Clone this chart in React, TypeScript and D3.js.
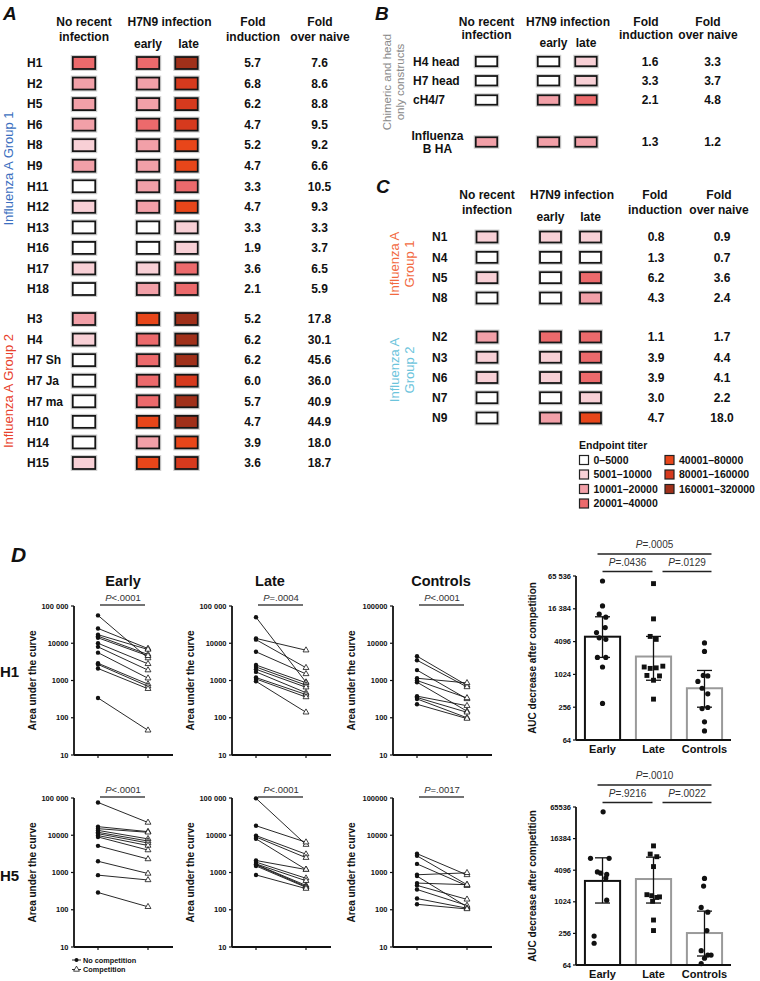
import React from 'react';
import * as d3 from 'd3';

const FONT = "'Liberation Sans', Arial, Helvetica, sans-serif";

// ---------- Titer legend ----------
const TITER_COLORS = ['#ffffff', '#f8d0d6', '#f2a0a8', '#ec6a6c', '#e8461a', '#d63a1e', '#a0301a'];
const TITER_LABELS = ['0–5000', '5001–10000', '10001–20000', '20001–40000', '40001–80000', '80001–160000', '160001–320000'];

// ---------- Panel A ----------
const A1_LABELS = ['H1', 'H2', 'H5', 'H6', 'H8', 'H9', 'H11', 'H12', 'H13', 'H16', 'H17', 'H18'];
const A1_NONE = [3, 2, 2, 2, 1, 2, 0, 1, 0, 0, 1, 0];
const A1_EARLY = [3, 2, 2, 3, 2, 2, 2, 2, 0, 0, 1, 2];
const A1_LATE = [6, 5, 5, 5, 4, 4, 3, 4, 1, 1, 3, 3];
const A1_FI = ['5.7', '6.8', '6.2', '4.7', '5.2', '4.7', '3.3', '4.7', '3.3', '1.9', '3.6', '2.1'];
const A1_FN = ['7.6', '8.6', '8.8', '9.5', '9.2', '6.6', '10.5', '9.3', '3.3', '3.7', '6.5', '5.9'];

const A2_LABELS = ['H3', 'H4', 'H7 Sh', 'H7 Ja', 'H7 ma', 'H10', 'H14', 'H15'];
const A2_NONE = [2, 1, 0, 0, 0, 0, 0, 1];
const A2_EARLY = [4, 3, 3, 3, 3, 4, 2, 4];
const A2_LATE = [6, 6, 6, 5, 6, 6, 4, 5];
const A2_FI = ['5.2', '6.2', '6.2', '6.0', '5.7', '4.7', '3.9', '3.6'];
const A2_FN = ['17.8', '30.1', '45.6', '36.0', '40.9', '44.9', '18.0', '18.7'];

// ---------- Panel B ----------
const B1_LABELS = ['H4 head', 'H7 head', 'cH4/7'];
const B1_NONE = [0, 0, 0];
const B1_EARLY = [0, 0, 2];
const B1_LATE = [1, 1, 3];
const B1_FI = ['1.6', '3.3', '2.1'];
const B1_FN = ['3.3', '3.7', '4.8'];
const B2_LABELS = ['Influenza\nB HA'];
const B2_NONE = [2];
const B2_EARLY = [2];
const B2_LATE = [2];
const B2_FI = ['1.3'];
const B2_FN = ['1.2'];

// ---------- Panel C ----------
const C1_LABELS = ['N1', 'N4', 'N5', 'N8'];
const C1_NONE = [1, 0, 1, 0];
const C1_EARLY = [1, 0, 0, 0];
const C1_LATE = [1, 0, 3, 2];
const C1_FI = ['0.8', '1.3', '6.2', '4.3'];
const C1_FN = ['0.9', '0.7', '3.6', '2.4'];
const C2_LABELS = ['N2', 'N3', 'N6', 'N7', 'N9'];
const C2_NONE = [2, 1, 1, 0, 0];
const C2_EARLY = [3, 1, 1, 0, 2];
const C2_LATE = [3, 3, 3, 1, 4];
const C2_FI = ['1.1', '3.9', '3.9', '3.0', '4.7'];
const C2_FN = ['1.7', '4.4', '4.1', '2.2', '18.0'];

// ---------- Panel D: paired plots ----------
const H1_EARLY_NC = [56000, 25000, 17000, 15500, 14000, 10000, 8000, 5600, 2900, 2700, 2100, 340];
const H1_EARLY_C = [4000, 7200, 6800, 5000, 4600, 2800, 1900, 1150, 800, 700, 600, 46];
const H1_LATE_NC = [50000, 13500, 12500, 5900, 2600, 2300, 2000, 1700, 1200, 1100, 950];
const H1_LATE_C = [900, 6500, 2200, 1500, 870, 750, 660, 470, 420, 360, 140];
const H1_CTRL_NC = [4500, 3500, 1900, 1150, 1000, 900, 380, 350, 320, 230];
const H1_CTRL_C = [740, 670, 320, 860, 340, 150, 210, 140, 100, 95];

const H5_EARLY_NC = [76000, 17000, 15000, 13500, 12000, 11000, 9800, 9000, 5200, 2000, 850, 290];
const H5_EARLY_C = [22000, 12500, 12000, 8000, 7000, 6200, 5300, 4000, 2300, 940, 630, 120];
const H5_LATE_NC = [98000, 18000, 9800, 9000, 8000, 2100, 1900, 1700, 1650, 1600, 1500, 860];
const H5_LATE_C = [5600, 6500, 3100, 2500, 1200, 1200, 700, 600, 450, 420, 400, 370];
const H5_CTRL_NC = [3200, 2800, 1700, 870, 800, 520, 450, 350, 200, 140];
const H5_CTRL_C = [860, 470, 440, 980, 120, 470, 190, 130, 110, 105];

const PAIRED_P = {
  h1: ['P<.0001', 'P=.0004', 'P<.0001'],
  h5: ['P<.0001', 'P<.0001', 'P=.0017'],
};
const PAIRED_TITLES = ['Early', 'Late', 'Controls'];
const PAIRED_TICKS = [10, 100, 1000, 10000, 100000];

// ---------- Panel D: bar plots ----------
const BAR_CATS = ['Early', 'Late', 'Controls'];
const BAR_TICKS = [64, 256, 1024, 4096, 16384, 65536];

const H1B_EARLY = [53000, 18500, 13100, 11500, 7400, 6000, 4800, 4500, 2100, 2100, 1400, 300];
const H1B_EARLY_J = [0, 0, -0.55, 0.55, 0.45, -1, -0.55, 0.55, -0.85, 0.55, 0, 0];
const H1B_LATE = [47500, 10700, 5100, 4500, 1450, 1400, 1350, 1320, 980, 960, 800, 360];
const H1B_LATE_J = [0, 0, -0.55, 0.45, 1.55, -1.55, 0.45, -0.55, -1.1, 1, 0, 0];
const H1B_CTRL = [3870, 2700, 980, 960, 760, 570, 450, 253, 242, 138, 94];
const H1B_CTRL_J = [0, 0, -0.2, 0.55, -1.1, -0.4, 0.55, 0.55, -0.4, 0, 0];
const H1B_MEAN = [5040, 2180, 570];
const H1B_HI = [11700, 5100, 1210];
const H1B_LO = [2100, 800, 256];
const H1B_P = ['P=.0005', 'P=.0436', 'P=.0129'];

const H5B_EARLY = [53000, 6900, 6900, 3800, 3600, 3400, 2900, 1100, 228, 166];
const H5B_EARLY_J = [0.1, -2, 1.1, -0.85, -0.3, 0.7, 0.55, 0.7, -1.4, -1.4];
const H5B_LATE = [11900, 8300, 7400, 4800, 1400, 1340, 1270, 1240, 1050, 460, 290];
const H5B_LATE_J = [0, -0.55, 0.55, 0, -1.1, -0.3, 1, 0.55, -0.15, 0, 0];
const H5B_CTRL = [2860, 2040, 800, 650, 290, 120, 99, 99, 86, 68];
const H5B_CTRL_J = [0, -0.15, -0.55, 0.55, 0.4, -0.55, 0.55, 1.1, 0, -0.55];
const H5B_MEAN = [2560, 2780, 260];
const H5B_HI = [7050, 7250, 680];
const H5B_LO = [970, 970, 95];
const H5B_P = ['P=.0010', 'P=.9216', 'P=.0022'];

// ---------- helpers ----------
const titerColor = d3.scaleOrdinal<number, string>().domain(d3.range(7)).range(TITER_COLORS);

type Row = { label: string; none: number; early: number; late: number; fi: string; fn: string };
function makeRows(labels: string[], none: number[], early: number[], late: number[], fi: string[], fn: string[]): Row[] {
  return labels.map((label, i) => ({ label, none: none[i], early: early[i], late: late[i], fi: fi[i], fn: fn[i] }));
}

type Cols = {
  label: number; labelCenter: number; none: number; h7: number; early: number; late: number;
  earlyH: number; lateH: number; fi: number; fn: number; fiH: number; fnH: number;
};

function Box({ cx, cy, w, h, v }: { cx: number; cy: number; w: number; h: number; v: number }) {
  return (
    <g>
      <rect x={cx - w / 2 - 1.5} y={cy - h / 2 - 1.5} width={w + 3} height={h + 3} fill="none" stroke="#cfcfcf" strokeWidth={1} />
      <rect x={cx - w / 2} y={cy - h / 2} width={w} height={h} fill={titerColor(v)} stroke="#161616" strokeWidth={1.8} />
    </g>
  );
}

function HeatRows({ rows, y0, y1, cols, bw, bh }: { rows: Row[]; y0: number; y1: number; cols: Cols; bw: number; bh: number }) {
  const y = d3.scaleLinear().domain([0, Math.max(rows.length - 1, 1)]).range([y0, rows.length > 1 ? y1 : y0]);
  return (
    <g fontSize={12} fontWeight="bold" fill="#111">
      {rows.map((r, i) => {
        const cy = y(i);
        const lines = r.label.split('\n');
        return (
          <g key={r.label}>
            {lines.length > 1 ? (
              <text x={cols.labelCenter} y={cy - 2} textAnchor="middle">
                {lines.map((t, k) => (
                  <tspan key={k} x={cols.labelCenter} dy={k === 0 ? 0 : 12.7}>{t}</tspan>
                ))}
              </text>
            ) : (
              <text x={cols.label} y={cy + 4.3}>{r.label}</text>
            )}
            <Box cx={cols.none} cy={cy} w={bw} h={bh} v={r.none} />
            <Box cx={cols.early} cy={cy} w={bw} h={bh} v={r.early} />
            <Box cx={cols.late} cy={cy} w={bw} h={bh} v={r.late} />
            <text x={cols.fi} y={cy + 4.3} textAnchor="middle">{r.fi}</text>
            <text x={cols.fn} y={cy + 4.3} textAnchor="middle">{r.fn}</text>
          </g>
        );
      })}
    </g>
  );
}

function Headers({ c, y1, y2, y3 }: { c: Cols; y1: number; y2: number; y3: number }) {
  return (
    <g fontWeight="bold" fontSize={12} textAnchor="middle" fill="#111">
      <text x={c.none} y={y1}>No recent</text>
      <text x={c.none} y={y2}>infection</text>
      <text x={c.h7} y={y1}>H7N9 infection</text>
      <text x={c.earlyH} y={y3}>early</text>
      <text x={c.lateH} y={y3}>late</text>
      <text x={c.fiH} y={y1}>Fold</text>
      <text x={c.fiH} y={y2}>induction</text>
      <text x={c.fnH} y={y1}>Fold</text>
      <text x={c.fnH} y={y2}>over naive</text>
    </g>
  );
}

function SideLabel({ x, y, lines, color, size, lh }: { x: number; y: number; lines: string[]; color: string; size: number; lh: number }) {
  return (
    <g transform={`translate(${x},${y}) rotate(-90)`} fill={color} fontSize={size} textAnchor="middle">
      {lines.map((t, i) => (
        <text key={i} x={0} y={i * lh}>{t}</text>
      ))}
    </g>
  );
}

function PText({ x, y, label, size }: { x: number; y: number; label: string; size: number }) {
  return (
    <text x={x} y={y} textAnchor="middle" fontSize={size} fill="#333">
      <tspan fontStyle="italic">{label[0]}</tspan>
      <tspan>{label.slice(1)}</tspan>
    </text>
  );
}

const TRI = d3.symbol().type(d3.symbolTriangle).size(15)() as string;
const SQR = d3.symbol().type(d3.symbolSquare).size(24)() as string;

function PairedPlot({ x0, top, bottom, nc, c, p, title, titleX, topLabel }: {
  x0: number; top: number; bottom: number; nc: number[]; c: number[]; p: string; title?: string; titleX?: number; topLabel: string;
}) {
  const y = d3.scaleLog().domain([10, 100000]).range([bottom, top]);
  const x = d3.scalePoint<string>().domain(['nc', 'c']).range([x0 + 24, x0 + 74]);
  const xe = x0 + 99;
  const xa = x('nc') as number;
  const xb = x('c') as number;
  const fmt = (v: number) => (v === 100000 ? topLabel : String(v));
  return (
    <g>
      {title && (
        <text x={titleX} y={586} textAnchor="middle" fontSize={14.5} fontWeight="bold" fill="#111">{title}</text>
      )}
      <PText x={x0 + 49} y={top - 5} label={p} size={9.5} />
      <line x1={xa + 2} x2={xb - 3} y1={top - 1} y2={top - 1} stroke="#444" strokeWidth={1.4} />
      <line x1={x0} x2={x0} y1={top} y2={bottom} stroke="#111" strokeWidth={1.8} />
      <line x1={x0} x2={xe} y1={bottom} y2={bottom} stroke="#111" strokeWidth={1.8} />
      {PAIRED_TICKS.map((t) => (
        <g key={t}>
          <line x1={x0 - 3} x2={x0} y1={y(t)} y2={y(t)} stroke="#111" strokeWidth={1.2} />
          <text x={x0 - 5.5} y={y(t)} dy="0.35em" textAnchor="end" fontSize={7.5} fontWeight="bold" fill="#111">{fmt(t)}</text>
        </g>
      ))}
      {[xa, xb].map((xx, i) => (
        <line key={i} x1={xx} x2={xx} y1={bottom} y2={bottom + 3} stroke="#111" strokeWidth={1.2} />
      ))}
      <text transform={`translate(${x0 - 38},${(top + bottom) / 2}) rotate(-90)`} textAnchor="middle" fontSize={10} fontWeight="bold" fill="#111">Area under the curve</text>
      {nc.map((v, i) => (
        <line key={i} x1={xa} y1={y(v)} x2={xb} y2={y(c[i])} stroke="#111" strokeWidth={0.9} />
      ))}
      {nc.map((v, i) => (
        <circle key={i} cx={xa} cy={y(v)} r={2.2} fill="#111" />
      ))}
      {c.map((v, i) => (
        <path key={i} d={TRI} transform={`translate(${xb},${y(v)})`} fill="#fff" stroke="#111" strokeWidth={0.8} />
      ))}
    </g>
  );
}

function BarPlot({ top, bottom, early, late, ctrl, jE, jL, jC, mean, hi, lo, pvals, tickLabels }: {
  top: number; bottom: number; early: number[]; late: number[]; ctrl: number[]; jE: number[]; jL: number[]; jC: number[];
  mean: number[]; hi: number[]; lo: number[]; pvals: string[]; tickLabels: string[];
}) {
  const y = d3.scaleLog().base(2).domain([64, 65536]).range([bottom, top]);
  const x = d3.scaleBand<string>().domain(BAR_CATS).range([576, 731]).paddingInner(0.31).paddingOuter(0.175);
  const bw = x.bandwidth();
  const cx = (k: string) => (x(k) as number) + bw / 2;
  const strokes = ['#111', '#9a9a9a', '#9a9a9a'];
  const groups = [
    { vals: early, j: jE, shape: 'c' },
    { vals: late, j: jL, shape: 's' },
    { vals: ctrl, j: jC, shape: 'c' },
  ];
  const xE = cx('Early'), xL = cx('Late'), xC = cx('Controls');
  const brackets = [
    { x1: xE - 5, x2: xC + 7, ly: top - 22, ty: top - 28, label: pvals[0] },
    { x1: xE, x2: xL - 1, ly: top - 4.5, ty: top - 10, label: pvals[1] },
    { x1: xL + 9, x2: xC + 7, ly: top - 4.5, ty: top - 10, label: pvals[2] },
  ];
  return (
    <g>
      {BAR_CATS.map((k, i) => (
        <rect key={k} x={x(k)} y={y(mean[i])} width={bw} height={bottom - y(mean[i])} fill="#fff" stroke={strokes[i]} strokeWidth={2} />
      ))}
      <line x1={576} x2={576} y1={top} y2={bottom} stroke="#111" strokeWidth={1.8} />
      <line x1={576} x2={731} y1={bottom} y2={bottom} stroke="#111" strokeWidth={1.8} />
      {BAR_TICKS.map((t, i) => (
        <g key={t}>
          <line x1={573} x2={576} y1={y(t)} y2={y(t)} stroke="#111" strokeWidth={1.2} />
          <text x={571} y={y(t)} dy="0.35em" textAnchor="end" fontSize={7.5} fontWeight="bold" fill="#111">{tickLabels[i]}</text>
        </g>
      ))}
      {BAR_CATS.map((k) => (
        <text key={k} x={cx(k)} y={bottom + 13} textAnchor="middle" fontSize={11} fontWeight="bold" fill="#111">{k}</text>
      ))}
      {groups.map((g, gi) => {
        const c0 = cx(BAR_CATS[gi]);
        return (
          <g key={gi}>
            {g.vals.map((v, i) =>
              g.shape === 's' ? (
                <path key={i} d={SQR} transform={`translate(${c0 + g.j[i] * 6},${y(v)})`} fill="#111" />
              ) : (
                <circle key={i} cx={c0 + g.j[i] * 6} cy={y(v)} r={2.6} fill="#111" />
              )
            )}
          </g>
        );
      })}
      {BAR_CATS.map((k, i) => {
        const c0 = cx(k);
        return (
          <g key={k} stroke="#111" strokeWidth={1.3}>
            <line x1={c0} x2={c0} y1={y(hi[i])} y2={y(lo[i])} />
            <line x1={c0 - 7.5} x2={c0 + 7.5} y1={y(hi[i])} y2={y(hi[i])} />
            <line x1={c0 - 7.5} x2={c0 + 7.5} y1={y(lo[i])} y2={y(lo[i])} />
          </g>
        );
      })}
      {brackets.map((b, i) => (
        <g key={i}>
          <line x1={b.x1} x2={b.x2} y1={b.ly} y2={b.ly} stroke="#222" strokeWidth={1.5} />
          <PText x={(b.x1 + b.x2) / 2} y={b.ty} label={b.label} size={10} />
        </g>
      ))}
      <text transform={`translate(${536},${(top + bottom) / 2}) rotate(-90)`} textAnchor="middle" fontSize={10} fontWeight="bold" fill="#111">AUC decrease after competition</text>
    </g>
  );
}

const A_COLS: Cols = { label: 27, labelCenter: 40, none: 84, h7: 169.5, early: 148, late: 186.5, earlyH: 148, lateH: 188.5, fi: 252.5, fn: 319.5, fiH: 253, fnH: 320 };
const B_COLS: Cols = { label: 413, labelCenter: 437.5, none: 486.5, h7: 568, early: 548.5, late: 586, earlyH: 553.5, lateH: 586, fi: 650, fn: 712.5, fiH: 646, fnH: 708 };
const C_COLS: Cols = { label: 432, labelCenter: 445, none: 487, h7: 572, early: 550.5, late: 590.5, earlyH: 550.5, lateH: 590.5, fi: 656, fn: 722, fiH: 655, fnH: 719 };

export default function App() {
  const a1 = makeRows(A1_LABELS, A1_NONE, A1_EARLY, A1_LATE, A1_FI, A1_FN);
  const a2 = makeRows(A2_LABELS, A2_NONE, A2_EARLY, A2_LATE, A2_FI, A2_FN);
  const b1 = makeRows(B1_LABELS, B1_NONE, B1_EARLY, B1_LATE, B1_FI, B1_FN);
  const b2 = makeRows(B2_LABELS, B2_NONE, B2_EARLY, B2_LATE, B2_FI, B2_FN);
  const c1 = makeRows(C1_LABELS, C1_NONE, C1_EARLY, C1_LATE, C1_FI, C1_FN);
  const c2 = makeRows(C2_LABELS, C2_NONE, C2_EARLY, C2_LATE, C2_FI, C2_FN);

  const pairedX = [74, 232, 393];
  const titleX = [123, 270, 441];
  const topLabels = ['100 000', '100 000', '100000'];
  const h1Pairs = [[H1_EARLY_NC, H1_EARLY_C], [H1_LATE_NC, H1_LATE_C], [H1_CTRL_NC, H1_CTRL_C]];
  const h5Pairs = [[H5_EARLY_NC, H5_EARLY_C], [H5_LATE_NC, H5_LATE_C], [H5_CTRL_NC, H5_CTRL_C]];

  const legendRows = d3.range(7).map((i) => ({ col: i < 4 ? 0 : 1, row: i < 4 ? i : i - 4, i }));

  return (
    <svg width={760} height={981} style={{ position: 'absolute', left: 0, top: 0, background: '#fff' }} fontFamily={FONT}>
      <rect width={760} height={981} fill="#fff" />

      {/* Panel letters */}
      <g fontWeight="bold" fontStyle="italic" fill="#111">
        <text x={3} y={20} fontSize={19}>A</text>
        <text x={375} y={20} fontSize={19}>B</text>
        <text x={376} y={193} fontSize={19}>C</text>
        <text x={11} y={562} fontSize={21}>D</text>
      </g>

      {/* Panel A */}
      <Headers c={A_COLS} y1={26} y2={40.5} y3={47.5} />
      <HeatRows rows={a1} y0={63} y1={289} cols={A_COLS} bw={22.5} bh={12} />
      <HeatRows rows={a2} y0={319} y1={463} cols={A_COLS} bw={22.5} bh={12} />
      <SideLabel x={12.5} y={168.5} lines={['Influenza A Group 1']} color="#3b6fc0" size={13} lh={0} />
      <SideLabel x={12.5} y={391} lines={['Influenza A Group 2']} color="#e8412c" size={13} lh={0} />

      {/* Panel B */}
      <Headers c={B_COLS} y1={26} y2={39} y3={46.5} />
      <HeatRows rows={b1} y0={61.5} y1={100} cols={B_COLS} bw={21.5} bh={9.5} />
      <HeatRows rows={b2} y0={142} y1={142} cols={B_COLS} bw={21.5} bh={9.5} />
      <SideLabel x={390.5} y={82} lines={['Chimeric and head', 'only constructs']} color="#8a8a8a" size={11.5} lh={13} />

      {/* Panel C */}
      <Headers c={C_COLS} y1={199} y2={214} y3={221} />
      <HeatRows rows={c1} y0={237} y1={298} cols={C_COLS} bw={21} bh={11} />
      <HeatRows rows={c2} y0={337} y1={418} cols={C_COLS} bw={21} bh={11} />
      <SideLabel x={398.5} y={264} lines={['Influenza A', 'Group 1']} color="#f26a3f" size={13} lh={15.5} />
      <SideLabel x={398.5} y={370} lines={['Influenza A', 'Group 2']} color="#6cc4dc" size={13} lh={15.5} />

      {/* Legend */}
      <g fill="#111" fontWeight="bold">
        <text x={579} y={449} fontSize={10.5}>Endpoint titer</text>
        {legendRows.map((d) => {
          const bx = d.col === 0 ? 579.5 : 665;
          const cy = 460 + d.row * 14.5;
          return (
            <g key={d.i}>
              <rect x={bx} y={cy - 4.5} width={9} height={9} fill={TITER_COLORS[d.i]} stroke="#222" strokeWidth={1.2} />
              <text x={bx + 14} y={cy + 3.8} fontSize={10.5}>{TITER_LABELS[d.i]}</text>
            </g>
          );
        })}
      </g>

      {/* Panel D row labels */}
      <text x={0} y={677} fontSize={15} fontWeight="bold" fill="#111">H1</text>
      <text x={0} y={881} fontSize={15} fontWeight="bold" fill="#111">H5</text>

      {pairedX.map((x0, i) => (
        <PairedPlot key={'h1' + i} x0={x0} top={606} bottom={755} nc={h1Pairs[i][0]} c={h1Pairs[i][1]} p={PAIRED_P.h1[i]}
          title={PAIRED_TITLES[i]} titleX={titleX[i]} topLabel={topLabels[i]} />
      ))}
      {pairedX.map((x0, i) => (
        <PairedPlot key={'h5' + i} x0={x0} top={798} bottom={947} nc={h5Pairs[i][0]} c={h5Pairs[i][1]} p={PAIRED_P.h5[i]}
          topLabel={topLabels[i]} />
      ))}

      {/* Paired legend */}
      <g fill="#111">
        <line x1={72} x2={81} y1={960} y2={960} stroke="#111" strokeWidth={0.9} />
        <circle cx={76.5} cy={960} r={2} fill="#111" />
        <text x={83} y={962.6} fontSize={7.3} fontWeight="bold">No competition</text>
        <line x1={72} x2={81} y1={969.5} y2={969.5} stroke="#111" strokeWidth={0.9} />
        <path d={TRI} transform="translate(76.5,969.5)" fill="#fff" stroke="#111" strokeWidth={0.8} />
        <text x={83} y={972} fontSize={7.3} fontWeight="bold">Competition</text>
      </g>

      <BarPlot top={576} bottom={740} early={H1B_EARLY} late={H1B_LATE} ctrl={H1B_CTRL} jE={H1B_EARLY_J} jL={H1B_LATE_J} jC={H1B_CTRL_J}
        mean={H1B_MEAN} hi={H1B_HI} lo={H1B_LO} pvals={H1B_P} tickLabels={['64', '256', '1024', '4096', '16 384', '65 536']} />
      <BarPlot top={807} bottom={965} early={H5B_EARLY} late={H5B_LATE} ctrl={H5B_CTRL} jE={H5B_EARLY_J} jL={H5B_LATE_J} jC={H5B_CTRL_J}
        mean={H5B_MEAN} hi={H5B_HI} lo={H5B_LO} pvals={H5B_P} tickLabels={['64', '256', '1024', '4096', '16384', '65536']} />
    </svg>
  );
}
